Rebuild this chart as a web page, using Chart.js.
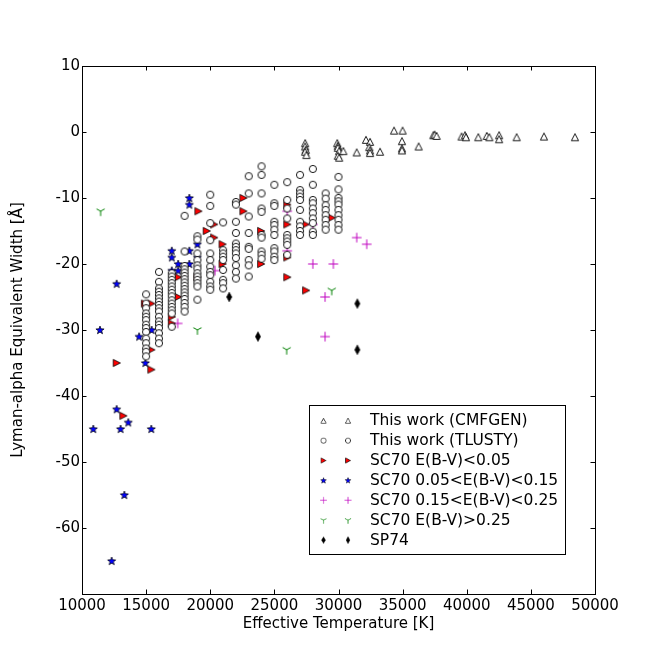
<!DOCTYPE html>
<html>
<head>
<meta charset="utf-8">
<script src="https://cdn.jsdelivr.net/npm/chart.js@4.4.1/dist/chart.umd.min.js"></script>
<style>
html,body{margin:0;padding:0;background:#fff;}
canvas{display:block;}
</style>
</head>
<body>
<canvas id="c" width="660" height="660" style="width:660px;height:660px"></canvas>
<script>
// ---------------- DATA ----------------
const xTickValues = [10000,15000,20000,25000,30000,35000,40000,45000,50000];
const yTickValues = [10,0,-10,-20,-30,-40,-50,-60,-70];
const yTickLabels = ["10","0","-10","-20","-30","-40","-50","-60",""];
const legendLabels = ["This work (CMFGEN)","This work (TLUSTY)","SC70 E(B-V)<0.05","SC70 0.05<E(B-V)<0.15","SC70 0.15<E(B-V)<0.25","SC70 E(B-V)>0.25","SP74"];

const cmfgenTeff = [27400,27400,27450,27400,27500,29900,29950,29950,30050,29950,30050,30380,31420,32140,32460,32400,32460,32460,33240,34330,35000,34950,34950,34950,36250,37400,37500,37650,39600,39860,39940,40900,41560,41760,42520,42520,43890,46020,48440];
const cmfgenEW   = [-1.7,-2.2,-2.7,-3.0,-3.5,-1.7,-2.1,-2.4,-2.9,-3.6,-3.9,-2.9,-3.1,-1.2,-1.5,-2.3,-2.8,-3.2,-3.0,0.2,0.2,-1.4,-2.5,-2.8,-2.2,-0.5,-0.4,-0.6,-0.7,-0.5,-0.8,-0.8,-0.6,-0.8,-0.5,-1.1,-0.8,-0.7,-0.8];

const tlustyTeff = [
 15000,15000,15000,15000,15000,15000,15000,15000,15000,15000,15000,15000,15000,15000,
 16000,16000,16000,16000,16000,16000,16000,16000,16000,16000,16000,16000,16000,16000,16000,16000,16000,
 17000,17000,17000,17000,17000,17000,17000,17000,17000,17000,17000,17000,17000,17000,
 18000,18000,18000,18000,18000,18000,18000,18000,18000,18000,18000,18000,18000,18000,18000,18000,
 19000,19000,19000,19000,19000,19000,19000,19000,19000,19000,19000,19000,
 20000,20000,20000,20000,20000,20000,20000,20000,20000,20000,20000,20000,
 21000,21000,21000,21000,21000,21000,21000,21000,21000,
 22000,22000,22000,22000,22000,22000,22000,22000,22000,22000,22000,22000,
 23000,23000,23000,23000,23000,23000,23000,23000,23000,
 24000,24000,24000,24000,24000,24000,24000,24000,24000,24000,
 25000,25000,25000,25000,25000,25000,25000,25000,25000,25000,25000,
 26000,26000,26000,26000,26000,26000,26000,26000,26000,
 27000,27000,27000,27000,27000,27000,27000,27000,27000,27000,
 28000,28000,28000,28000,28000,28000,28000,28000,28000,28000,
 29000,29000,29000,29000,29000,29000,29000,29000,
 30000,30000,30000,30000,30000,30000,30000,30000,30000,30000
];
const tlustyEW = [
 -24.6,-26.0,-26.7,-27.5,-28.0,-28.5,-29.2,-29.7,-30.3,-31.3,-32.0,-32.8,-33.3,-34.0,
 -21.2,-22.7,-23.7,-24.2,-24.7,-25.2,-25.7,-26.2,-26.7,-27.2,-28.0,-28.7,-29.2,-29.7,-30.5,-31.3,-32.0,
 -21.4,-21.9,-22.4,-22.9,-23.4,-23.9,-24.4,-24.9,-25.5,-26.0,-26.5,-27.0,-27.5,-29.5,
 -12.7,-18.1,-20.3,-20.8,-21.3,-21.8,-22.3,-22.8,-23.3,-23.8,-24.3,-24.8,-25.3,-25.9,-26.5,-27.2,
 -15.8,-16.3,-18.4,-19.4,-20.2,-20.7,-21.4,-21.9,-22.4,-22.9,-23.4,-25.4,
 -9.5,-11.2,-13.8,-16.4,-18.4,-19.4,-20.4,-21.2,-21.7,-22.7,-23.4,-23.9,
 -13.7,-17.9,-18.4,-18.9,-19.4,-20.9,-22.4,-22.9,-23.7,
 -10.6,-11.0,-13.6,-15.3,-16.9,-17.4,-17.9,-18.4,-19.1,-20.2,-21.2,-22.2,
 -6.7,-9.3,-12.8,-15.3,-17.4,-17.7,-19.4,-20.2,-21.9,
 -5.2,-6.5,-9.3,-11.6,-12.1,-15.6,-16.0,-18.1,-18.6,-19.2,
 -8.0,-10.8,-11.2,-13.6,-14.1,-14.8,-15.6,-17.6,-18.1,-18.9,-19.4,
 -7.6,-10.3,-11.6,-13.1,-15.6,-16.1,-16.6,-17.1,-18.6,
 -6.5,-8.8,-9.3,-9.8,-10.3,-11.8,-13.6,-14.3,-15.0,-15.6,
 -5.6,-8.0,-10.3,-10.8,-11.6,-12.3,-13.1,-13.8,-15.1,-15.6,
 -9.3,-10.1,-11.1,-11.8,-12.6,-13.3,-14.1,-14.8,
 -6.8,-8.7,-10.0,-10.5,-11.0,-11.8,-12.6,-13.3,-14.1,-14.8
];

const sc70aTeff = [12700,13220,14900,15400,15400,15400,17000,17000,17500,17500,19000,19070,19720,20300,20300,20960,20960,22580,22580,23960,23960,26000,26000,26000,26000,27440,27470,29470];
const sc70aEW   = [-35,-43,-26,-26,-33,-36,-28,-29,-22,-25,-22,-12,-15,-14,-16,-17,-20,-10,-12,-15,-20,-11,-14,-19,-22,-14,-24,-13];

const sc70bTeff = [10880,11400,12310,12700,12700,13010,13300,13610,15400,14450,15430,14940,17000,17000,17000,17500,17500,18370,18370,18370,18370,19000,19000];
const sc70bEW   = [-45,-30,-65,-23,-42,-45,-55,-44,-45,-31,-30,-35,-18,-19,-21,-20,-21,-10,-11,-18,-20,-17,-19];

const sc70cTeff = [17460,20370,26000,26000,28000,28000,29600,28950,28950,31420,32200];
const sc70cEW   = [-29,-21,-12,-18,-14,-20,-20,-25,-31,-16,-17];

const sc70dTeff = [11450,19000,25960,29470];
const sc70dEW   = [-12,-30,-33,-24];

const sp74Teff = [21480,23720,31470,31470];
const sp74EW   = [-25,-31,-26,-33];

// ---------------- MARKERS ----------------
function mk(w,h,draw){const c=document.createElement('canvas');c.width=w;c.height=h;const g=c.getContext('2d');draw(g,w/2,h/2);return c;}
const mTri = mk(12,12,(g,x,y)=>{g.beginPath();g.moveTo(x,y-3.6);g.lineTo(x-3.6,y+3.4);g.lineTo(x+3.6,y+3.4);g.closePath();g.fillStyle='#fff';g.fill();g.lineWidth=0.9;g.strokeStyle='#000';g.stroke();});
const mCirc = mk(12,12,(g,x,y)=>{g.beginPath();g.arc(x,y,3.6,0,Math.PI*2);g.fillStyle='#fff';g.fill();g.lineWidth=0.9;g.strokeStyle='#000';g.stroke();});
const mFlag = mk(12,12,(g,x,y)=>{g.beginPath();g.moveTo(x+3.7,y);g.lineTo(x-3.4,y-3.6);g.lineTo(x-3.4,y+3.6);g.closePath();g.fillStyle='#ff0000';g.fill();g.lineWidth=0.8;g.strokeStyle='#000';g.stroke();});
const mStar = mk(12,12,(g,x,y)=>{g.beginPath();for(let i=0;i<10;i++){const r=i%2?1.8:4.3;const a=-Math.PI/2+i*Math.PI/5;g.lineTo(x+r*Math.cos(a),y+0.3+r*Math.sin(a));}g.closePath();g.fillStyle='#0000ff';g.fill();g.lineWidth=0.7;g.strokeStyle='#000';g.stroke();});
const mPlus = mk(12,12,(g,x,y)=>{g.beginPath();g.moveTo(x-4.8,y);g.lineTo(x+4.8,y);g.moveTo(x,y-4.8);g.lineTo(x,y+4.8);g.lineWidth=1;g.strokeStyle='#bf00bf';g.stroke();});
const mY = mk(12,12,(g,x,y)=>{g.beginPath();g.moveTo(x,y);g.lineTo(x,y+4.8);g.moveTo(x,y);g.lineTo(x-4.1,y-2.4);g.moveTo(x,y);g.lineTo(x+4.1,y-2.4);g.lineWidth=1;g.strokeStyle='#008000';g.stroke();});
const mDiam = mk(10,12,(g,x,y)=>{g.beginPath();g.moveTo(x,y-4.8);g.lineTo(x+2.6,y);g.lineTo(x,y+4.8);g.lineTo(x-2.6,y);g.closePath();g.fillStyle='#000';g.fill();g.lineWidth=0.6;g.strokeStyle='#000';g.stroke();});
const legendMarkers = [mTri,mCirc,mFlag,mStar,mPlus,mY,mDiam];

function pts(xs,ys){return xs.map((v,i)=>({x:v,y:ys[i]}));}
function ds(label,xs,ys,img){return {label:label,data:pts(xs,ys),pointStyle:img,pointRadius:4,showLine:false};}

// ---------------- PLUGINS ----------------
const frameTicks = {
  id:'frameTicks',
  afterDraw(chart){
    const {ctx,chartArea:a,scales:{x,y}}=chart;
    ctx.save();
    ctx.strokeStyle='#000';ctx.lineWidth=1;
    const L=4.5;
    ctx.beginPath();
    xTickValues.forEach(v=>{const p=Math.round(x.getPixelForValue(v))+0.5;ctx.moveTo(p,a.bottom);ctx.lineTo(p,a.bottom-L);ctx.moveTo(p,a.top);ctx.lineTo(p,a.top+L);});
    yTickValues.forEach(v=>{const p=Math.round(y.getPixelForValue(v))+0.5;ctx.moveTo(a.left,p);ctx.lineTo(a.left+L,p);ctx.moveTo(a.right,p);ctx.lineTo(a.right-L,p);});
    ctx.stroke();
    ctx.strokeRect(Math.round(a.left)+0.5,Math.round(a.top)+0.5,Math.round(a.right-a.left),Math.round(a.bottom-a.top));
    // legend
    const bx=309.5,by=405.5,bw=256,bh=149;
    ctx.fillStyle='#fff';ctx.fillRect(bx,by,bw,bh);
    ctx.strokeRect(bx,by,bw,bh);
    ctx.font='15.5px "DejaVu Sans"';ctx.fillStyle='#000';ctx.textBaseline='middle';ctx.textAlign='left';
    const s=0.72;
    legendLabels.forEach((t,i)=>{
      const yy=420.7+i*19.9;
      const img=legendMarkers[i];
      [323.5,348].forEach(xx=>ctx.drawImage(img,xx-img.width*s/2,yy-img.height*s/2,img.width*s,img.height*s));
      ctx.fillText(t,370,yy+0.5);
    });
    ctx.restore();
  }
};

Chart.defaults.font.family='"DejaVu Sans"';
Chart.defaults.font.size=15;
Chart.defaults.color='#000';

new Chart(document.getElementById('c'),{
  type:'scatter',
  data:{datasets:[
    ds(legendLabels[0],cmfgenTeff,cmfgenEW,mTri),
    ds(legendLabels[1],tlustyTeff,tlustyEW,mCirc),
    ds(legendLabels[2],sc70aTeff,sc70aEW,mFlag),
    ds(legendLabels[3],sc70bTeff,sc70bEW,mStar),
    ds(legendLabels[4],sc70cTeff,sc70cEW,mPlus),
    ds(legendLabels[5],sc70dTeff,sc70dEW,mY),
    ds(legendLabels[6],sp74Teff,sp74EW,mDiam)
  ]},
  options:{
    responsive:false,animation:false,
    layout:{padding:{left:0,right:65,top:66,bottom:0}},
    plugins:{legend:{display:false},tooltip:{enabled:false}},
    scales:{
      x:{type:'linear',min:10000,max:50000,
        afterBuildTicks(s){s.ticks=xTickValues.map(v=>({value:v}));},
        afterFit(s){s.height=66;},
        grid:{display:false,drawTicks:false},border:{display:false},
        ticks:{padding:3,maxRotation:0,autoSkip:false,callback:v=>String(v),font:{size:15}},
        title:{display:true,text:'Effective Temperature [K]',font:{size:15},padding:{top:2,bottom:27}}
      },
      y:{type:'linear',min:-70,max:10,
        afterBuildTicks(s){s.ticks=yTickValues.map(v=>({value:v}));},
        afterFit(s){s.width=82;},
        grid:{display:false,drawTicks:false},border:{display:false},
        ticks:{padding:2,autoSkip:false,callback:v=>yTickLabels[yTickValues.indexOf(v)],font:{size:15}},
        title:{display:true,text:'Lyman-alpha Equivalent Width [Å]',font:{size:15},padding:{top:9,bottom:2}}
      }
    }
  },
  plugins:[frameTicks]
});
</script>
</body>
</html>
